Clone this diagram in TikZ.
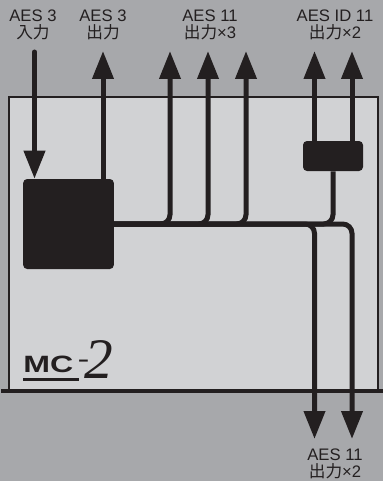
\documentclass[tikz,border=0pt]{standalone}
\usepackage{fontspec}
\setmainfont{Liberation Sans}
\newfontfamily\cjk{Noto Sans CJK JP}
\newfontfamily\swash{Liberation Serif}
\usetikzlibrary{arrows.meta}
\definecolor{panelgray}{HTML}{D1D2D4}
\definecolor{backgray}{HTML}{A7A8AB}
\definecolor{inkblack}{HTML}{231F20}
\tikzset{
    wire/.style = {draw = inkblack, line width = 3.75pt, rounded corners = 7pt},
    tipped/.style = {-{Triangle[width = 15.5pt, length = 21pt]}},
    blockbox/.style = {fill = inkblack, rounded corners = 3pt, inner sep = 0pt},
    portlabel/.style = {text = inkblack, align = center, inner sep = 0pt, font = \fontsize{12.5}{12.6}\selectfont},
    logotext/.style = {text = inkblack, inner sep = 0pt},
}
\begin{document}
    \begin{tikzpicture}[x = 0.75pt, y = -0.75pt]
        \useasboundingbox (0, 0) rectangle (383, 481);
        \fill[backgray] (0, 0) rectangle (383, 481);
        \draw[draw = inkblack, fill = panelgray, line width = 1.9pt] (9, 391) -- (9, 97) -- (378, 97) -- (378, 391);
        \draw[inkblack, line width = 3.6pt] (1, 391) -- (383, 391);

        \node[blockbox, minimum width = 68pt, minimum height = 67.5pt] (mainbox) at (68.5, 224) {};
        \node[blockbox, minimum width = 45pt, minimum height = 22.5pt] (splitbox) at (333, 156) {};

        \coordinate (ina) at (34.5, 52);
        \coordinate (outa) at (103, 51);
        \coordinate (outb) at (170, 51);
        \coordinate (outc) at (208, 51);
        \coordinate (outd) at (246, 51);
        \coordinate (oute) at (314.5, 51);
        \coordinate (outf) at (352, 51);
        \coordinate (outg) at (314.5, 439);
        \coordinate (outh) at (352, 439);

        \draw[wire, tipped, line cap = round] (ina) -- (ina |- mainbox.north);
        \draw[wire, tipped] (outa |- mainbox.north) -- (outa);
        \foreach \tip in {outb, outc, outd} {
            \draw[wire, {Triangle[width = 15.5pt, length = 21pt]}-] (\tip) |- (mainbox.east);
        }
        \draw[wire, tipped] (oute |- splitbox.north) -- (oute);
        \draw[wire, tipped] (outf |- splitbox.north) -- (outf);
        \draw[wire] (splitbox.south) |- (mainbox.east);
        \draw[wire, tipped] (mainbox.east) -| (outg);
        \draw[wire, tipped] (mainbox.east) -| (outh);

        \node[portlabel] (labela) at (33, 25) {AES 3\\{\cjk 入力}};
        \node[portlabel] (labelb) at (103, 25) {AES 3\\{\cjk 出力}};
        \node[portlabel] (labelc) at (210, 25) {AES 11\\{\cjk 出力}×3};
        \node[portlabel] (labeld) at (335, 25) {AES ID 11\\{\cjk 出力}×2};
        \node[portlabel] (labele) at (335, 464) {AES 11\\{\cjk 出力}×2};

        \node[logotext, anchor = base west, font = \bfseries\fontsize{17.7}{17.7}\selectfont] (mclogo) at (23, 372) {\scalebox{1.36}[1]{MC}};
        \draw[inkblack, line width = 2.25pt] (23, 379) -- (79, 379);
        \node[logotext, font = \bfseries\fontsize{16}{16}\selectfont] (dashlogo) at (83.5, 363) {\scalebox{1.6}[0.8]{-}};
        \node[logotext, font = \swash\itshape\fontsize{43}{43}\selectfont] (twologo) at (99, 360) {2};
    \end{tikzpicture}
\end{document}
